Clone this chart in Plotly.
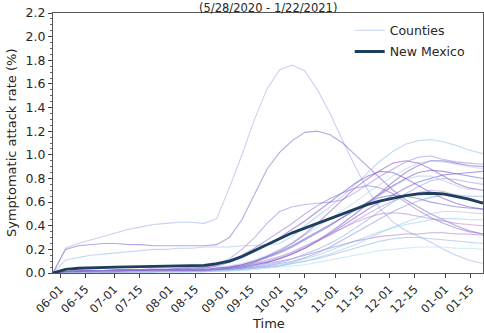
import plotly.graph_objects as go

# ---------------- data ----------------
DATES = ["2020-05-28", "2020-06-04", "2020-06-11", "2020-06-18", "2020-06-25",
         "2020-07-02", "2020-07-09", "2020-07-16", "2020-07-23", "2020-07-30",
         "2020-08-06", "2020-08-13", "2020-08-20", "2020-08-27", "2020-09-03",
         "2020-09-10", "2020-09-17", "2020-09-24", "2020-10-01", "2020-10-08",
         "2020-10-15", "2020-10-22", "2020-10-29", "2020-11-05", "2020-11-12",
         "2020-11-19", "2020-11-26", "2020-12-03", "2020-12-10", "2020-12-17",
         "2020-12-24", "2020-12-31", "2021-01-07", "2021-01-14", "2021-01-22"]

NEW_MEXICO = [0.00, 0.03, 0.04, 0.045, 0.048, 0.05, 0.052, 0.054, 0.056, 0.058,
              0.06, 0.062, 0.065, 0.08, 0.10, 0.14, 0.19, 0.24, 0.29, 0.34,
              0.38, 0.42, 0.46, 0.50, 0.54, 0.58, 0.61, 0.635, 0.655, 0.67,
              0.675, 0.67, 0.65, 0.625, 0.59]

COUNTIES = {
    "A": [0.00, 0.21, 0.25, 0.28, 0.31, 0.34, 0.37, 0.39, 0.41, 0.42, 0.43, 0.43, 0.42, 0.46, 0.72, 1.00, 1.30, 1.56, 1.72, 1.76, 1.71, 1.55, 1.35, 1.12, 0.90, 0.70, 0.54, 0.43, 0.36, 0.31, 0.26, 0.20, 0.15, 0.11, 0.08],
    "B": [0.00, 0.20, 0.23, 0.24, 0.25, 0.25, 0.24, 0.24, 0.23, 0.23, 0.23, 0.23, 0.23, 0.24, 0.30, 0.45, 0.66, 0.88, 1.02, 1.12, 1.19, 1.20, 1.17, 1.10, 1.00, 0.90, 0.80, 0.70, 0.62, 0.56, 0.50, 0.45, 0.40, 0.36, 0.33],
    "C": [0.00, 0.11, 0.13, 0.15, 0.16, 0.17, 0.18, 0.19, 0.20, 0.20, 0.21, 0.21, 0.22, 0.22, 0.22, 0.23, 0.23, 0.24, 0.25, 0.31, 0.40, 0.48, 0.56, 0.65, 0.75, 0.85, 0.95, 1.03, 1.09, 1.12, 1.13, 1.11, 1.08, 1.04, 1.01],
    "D": [0.00, 0.01, 0.02, 0.02, 0.02, 0.03, 0.03, 0.03, 0.04, 0.04, 0.04, 0.05, 0.05, 0.07, 0.12, 0.20, 0.30, 0.42, 0.52, 0.56, 0.58, 0.59, 0.60, 0.62, 0.68, 0.75, 0.82, 0.88, 0.94, 0.98, 0.99, 0.96, 0.94, 0.93, 0.92],
    "E1": [0.00, 0.01, 0.01, 0.01, 0.01, 0.01, 0.01, 0.01, 0.01, 0.02, 0.02, 0.02, 0.02, 0.03, 0.04, 0.05, 0.07, 0.09, 0.12, 0.16, 0.21, 0.27, 0.33, 0.40, 0.47, 0.54, 0.60, 0.66, 0.72, 0.77, 0.80, 0.83, 0.84, 0.85, 0.86],
    "E2": [0.00, 0.01, 0.02, 0.02, 0.02, 0.02, 0.02, 0.03, 0.03, 0.03, 0.03, 0.03, 0.04, 0.05, 0.06, 0.08, 0.11, 0.15, 0.20, 0.26, 0.32, 0.39, 0.46, 0.53, 0.60, 0.68, 0.75, 0.82, 0.88, 0.93, 0.95, 0.94, 0.92, 0.90, 0.88],
    "E3": [0.00, 0.01, 0.01, 0.01, 0.02, 0.02, 0.02, 0.02, 0.02, 0.02, 0.03, 0.03, 0.03, 0.04, 0.05, 0.07, 0.10, 0.14, 0.19, 0.25, 0.33, 0.42, 0.52, 0.62, 0.72, 0.80, 0.87, 0.93, 0.95, 0.93, 0.88, 0.82, 0.76, 0.72, 0.70],
    "E4": [0.00, 0.00, 0.01, 0.01, 0.01, 0.01, 0.01, 0.01, 0.01, 0.01, 0.01, 0.02, 0.02, 0.02, 0.03, 0.04, 0.05, 0.07, 0.09, 0.12, 0.16, 0.20, 0.25, 0.31, 0.38, 0.45, 0.53, 0.60, 0.67, 0.73, 0.78, 0.80, 0.79, 0.77, 0.75],
    "E5": [0.00, 0.01, 0.01, 0.02, 0.02, 0.02, 0.02, 0.02, 0.02, 0.03, 0.03, 0.03, 0.03, 0.04, 0.05, 0.06, 0.08, 0.10, 0.13, 0.17, 0.22, 0.27, 0.32, 0.38, 0.44, 0.50, 0.56, 0.61, 0.65, 0.68, 0.70, 0.69, 0.66, 0.63, 0.60],
    "E6": [0.00, 0.01, 0.01, 0.01, 0.01, 0.01, 0.02, 0.02, 0.02, 0.02, 0.02, 0.02, 0.03, 0.03, 0.04, 0.06, 0.09, 0.13, 0.17, 0.22, 0.28, 0.34, 0.40, 0.47, 0.54, 0.60, 0.64, 0.66, 0.65, 0.63, 0.60, 0.58, 0.56, 0.55, 0.54],
    "E7": [0.00, 0.00, 0.00, 0.01, 0.01, 0.01, 0.01, 0.01, 0.01, 0.01, 0.01, 0.01, 0.01, 0.02, 0.02, 0.03, 0.04, 0.05, 0.07, 0.09, 0.12, 0.15, 0.19, 0.23, 0.27, 0.31, 0.35, 0.38, 0.41, 0.43, 0.45, 0.46, 0.46, 0.45, 0.45],
    "E8": [0.00, 0.01, 0.01, 0.01, 0.01, 0.01, 0.01, 0.02, 0.02, 0.02, 0.02, 0.02, 0.02, 0.03, 0.03, 0.04, 0.06, 0.08, 0.10, 0.12, 0.15, 0.18, 0.21, 0.24, 0.27, 0.29, 0.31, 0.32, 0.33, 0.33, 0.34, 0.34, 0.33, 0.33, 0.32],
    "E9": [0.00, 0.00, 0.01, 0.01, 0.01, 0.01, 0.01, 0.01, 0.01, 0.01, 0.01, 0.01, 0.01, 0.02, 0.02, 0.03, 0.04, 0.05, 0.06, 0.08, 0.10, 0.12, 0.15, 0.18, 0.21, 0.24, 0.27, 0.29, 0.30, 0.30, 0.29, 0.28, 0.27, 0.26, 0.25],
    "E10": [0.00, 0.01, 0.02, 0.02, 0.02, 0.03, 0.03, 0.03, 0.03, 0.03, 0.04, 0.04, 0.04, 0.06, 0.09, 0.13, 0.18, 0.24, 0.30, 0.37, 0.44, 0.52, 0.60, 0.68, 0.76, 0.82, 0.86, 0.85, 0.80, 0.74, 0.68, 0.63, 0.59, 0.56, 0.54],
    "E11": [0.00, 0.01, 0.01, 0.01, 0.02, 0.02, 0.02, 0.02, 0.02, 0.02, 0.02, 0.03, 0.03, 0.03, 0.04, 0.05, 0.07, 0.10, 0.13, 0.17, 0.22, 0.28, 0.35, 0.42, 0.50, 0.58, 0.66, 0.73, 0.79, 0.82, 0.82, 0.78, 0.74, 0.71, 0.70],
    "E12": [0.00, 0.00, 0.01, 0.01, 0.01, 0.01, 0.01, 0.01, 0.02, 0.02, 0.02, 0.02, 0.02, 0.03, 0.04, 0.06, 0.08, 0.11, 0.14, 0.18, 0.23, 0.28, 0.33, 0.38, 0.43, 0.47, 0.50, 0.51, 0.50, 0.48, 0.46, 0.44, 0.42, 0.41, 0.40],
    "E13": [0.00, 0.01, 0.01, 0.01, 0.01, 0.01, 0.01, 0.01, 0.01, 0.02, 0.02, 0.02, 0.02, 0.02, 0.03, 0.04, 0.05, 0.06, 0.08, 0.10, 0.13, 0.17, 0.22, 0.28, 0.34, 0.40, 0.46, 0.52, 0.57, 0.61, 0.64, 0.66, 0.66, 0.65, 0.65],
    "E14": [0.00, 0.01, 0.01, 0.02, 0.02, 0.02, 0.02, 0.02, 0.03, 0.03, 0.03, 0.03, 0.03, 0.04, 0.05, 0.07, 0.10, 0.14, 0.18, 0.23, 0.29, 0.35, 0.41, 0.47, 0.53, 0.60, 0.67, 0.74, 0.80, 0.85, 0.87, 0.86, 0.84, 0.82, 0.80],
    "E15": [0.00, 0.00, 0.00, 0.01, 0.01, 0.01, 0.01, 0.01, 0.01, 0.01, 0.01, 0.01, 0.02, 0.02, 0.02, 0.03, 0.04, 0.05, 0.06, 0.08, 0.10, 0.13, 0.16, 0.20, 0.24, 0.29, 0.34, 0.39, 0.43, 0.47, 0.50, 0.52, 0.52, 0.51, 0.50],
    "E16": [0.00, 0.01, 0.02, 0.02, 0.02, 0.02, 0.03, 0.03, 0.03, 0.03, 0.03, 0.04, 0.05, 0.07, 0.10, 0.15, 0.21, 0.28, 0.35, 0.42, 0.50, 0.57, 0.63, 0.68, 0.72, 0.74, 0.72, 0.67, 0.60, 0.53, 0.47, 0.42, 0.38, 0.35, 0.33],
    "E17": [0.00, 0.00, 0.00, 0.00, 0.01, 0.01, 0.01, 0.01, 0.01, 0.01, 0.01, 0.01, 0.01, 0.01, 0.02, 0.02, 0.03, 0.04, 0.05, 0.06, 0.07, 0.09, 0.11, 0.13, 0.15, 0.17, 0.19, 0.20, 0.21, 0.22, 0.22, 0.22, 0.21, 0.21, 0.20],
    "E18": [0.00, 0.01, 0.01, 0.01, 0.01, 0.01, 0.02, 0.02, 0.02, 0.02, 0.02, 0.02, 0.02, 0.03, 0.04, 0.05, 0.07, 0.09, 0.12, 0.16, 0.21, 0.27, 0.34, 0.42, 0.50, 0.59, 0.68, 0.77, 0.85, 0.91, 0.95, 0.95, 0.93, 0.91, 0.90],
}

TICK_VALS = ["2020-06-01", "2020-06-15", "2020-07-01", "2020-07-15", "2020-08-01",
             "2020-08-15", "2020-09-01", "2020-09-15", "2020-10-01", "2020-10-15",
             "2020-11-01", "2020-11-15", "2020-12-01", "2020-12-15", "2021-01-01",
             "2021-01-15"]
TICK_TEXT = ["06-01", "06-15", "07-01", "07-15", "08-01", "08-15", "09-01", "09-15",
             "10-01", "10-15", "11-01", "11-15", "12-01", "12-15", "01-01", "01-15"]

# ---------------- styling ----------------
PALETTE = ["#a3b3ec", "#8a6fd2", "#9fc3ea", "#9a8ee0", "#7d62d4", "#a9d6ec",
           "#9b5cc8", "#8fa9e8", "#b49ae0", "#6f6cd8", "#9ccfe6", "#a77ed6",
           "#8fb6ea", "#7a58cc", "#b7c3ee", "#c08ad6", "#8a9ce4", "#6c5cd0",
           "#a9c9ee", "#9370d8", "#b2dff0", "#8c64cc"]
FONT = "DejaVu Sans"

fig = go.Figure()
for i, (name, vals) in enumerate(COUNTIES.items()):
    fig.add_trace(go.Scatter(
        x=DATES, y=vals, mode="lines",
        line=dict(color=PALETTE[i % len(PALETTE)], width=1.1),
        opacity=0.6, name="Counties", legendgroup="counties",
        showlegend=(i == 0), hoverinfo="skip"))

fig.add_trace(go.Scatter(
    x=DATES, y=NEW_MEXICO, mode="lines",
    line=dict(color="#1d3f5e", width=2.8), name="New Mexico"))

fig.update_layout(
    width=484, height=333,
    margin=dict(l=53, r=1, t=13, b=60),
    paper_bgcolor="white", plot_bgcolor="white",
    font=dict(family=FONT, size=12.5, color="#262626"),
    showlegend=True,
    legend=dict(x=0.69, y=0.99, xanchor="left", yanchor="top",
                bgcolor="rgba(255,255,255,0)", borderwidth=0,
                font=dict(size=12.5), tracegroupgap=2),
    annotations=[
        dict(text="(5/28/2020 - 1/22/2021)", xref="paper", yref="paper",
             x=0.5, y=1.0 + 13.5 / 260, xanchor="center", yanchor="top",
             showarrow=False, font=dict(size=11.5)),
        dict(text="Time", xref="paper", yref="paper", x=0.5, y=-50 / 260,
             xanchor="center", yanchor="middle", showarrow=False,
             font=dict(size=13)),
        dict(text="Symptomatic attack rate (%)", xref="paper", yref="paper",
             x=-42 / 430, y=0.5, xanchor="center", yanchor="middle",
             textangle=-90, showarrow=False, font=dict(size=13)),
    ],
)

fig.update_xaxes(
    type="date", range=["2020-05-28", "2021-01-22"],
    tickmode="array", tickvals=TICK_VALS, ticktext=TICK_TEXT, tickangle=-45,
    ticks="outside", ticklen=4, tickcolor="#444", tickfont=dict(size=11.5),
    showgrid=False, zeroline=False, showline=True, linecolor="#555",
    linewidth=1, mirror=True)

fig.update_yaxes(
    range=[0, 2.2], tickmode="linear", tick0=0, dtick=0.2, tickformat=".1f",
    ticks="outside", ticklen=4, tickcolor="#444", tickfont=dict(size=12.5),
    minor=dict(ticks="outside", ticklen=2, dtick=0.05, tickcolor="#666"),
    showgrid=False, zeroline=False, showline=True, linecolor="#555",
    linewidth=1, mirror=True)

fig.write_html("out.html")
